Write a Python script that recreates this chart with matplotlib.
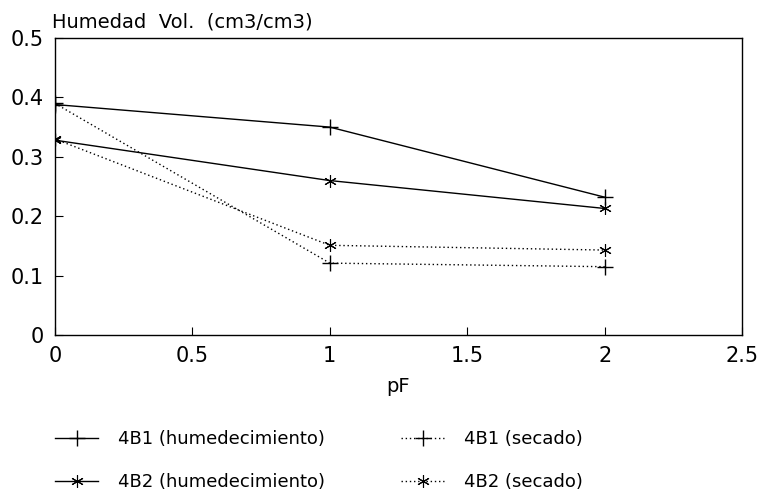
import matplotlib.pyplot as plt

plt.rcParams['font.family'] = ['DejaVu Sans']

pf = [0, 1, 2]
hum_4b1 = [0.388, 0.350, 0.232]
hum_4b2 = [0.328, 0.260, 0.213]
sec_4b1 = [0.390, 0.121, 0.115]
sec_4b2 = [0.330, 0.151, 0.143]

xticks = [0, 0.5, 1, 1.5, 2, 2.5]
xticklabels = ["0", "0.5", "1", "1.5", "2", "2.5"]
yticks = [0, 0.1, 0.2, 0.3, 0.4, 0.5]
yticklabels = ["0", "0.1", "0.2", "0.3", "0.4", "0.5"]

asterisk = (6, 2, 0)

fig = plt.figure(figsize=(7.62, 5.0), dpi=100)
ax = fig.add_axes([0.072, 0.33, 0.902, 0.594])

p1, = ax.plot(pf, hum_4b1, color='black', lw=1, marker='+', ms=11, mew=1)
p2, = ax.plot(pf, hum_4b2, color='black', lw=1, marker=asterisk, ms=9, mew=0.8)
p3, = ax.plot(pf, sec_4b1, color='black', lw=1, ls=(0, (1, 2)), marker='+', ms=11, mew=1)
p4, = ax.plot(pf, sec_4b2, color='black', lw=1, ls=(0, (1, 2)), marker=asterisk, ms=9, mew=0.8)

ax.set_xlim(0, 2.5)
ax.set_ylim(0, 0.5)
ax.set_xticks(xticks)
ax.set_xticklabels(xticklabels)
ax.set_yticks(yticks)
ax.set_yticklabels(yticklabels)
ax.tick_params(direction='in', length=6, labelsize=15, width=0.8, pad=8)
for s in ax.spines.values():
    s.set_linewidth(1.0)

ax.set_xlabel("pF", fontsize=14, labelpad=8)
fig.text(0.068, 0.955, "Humedad  Vol.  (cm3/cm3)", fontsize=14, ha='left', va='center')

fig.legend([p1, p2, p3, p4],
           ["4B1 (humedecimiento)", "4B2 (humedecimiento)", "4B1 (secado)", "4B2 (secado)"],
           ncol=2, frameon=False, fontsize=13, loc='upper left',
           bbox_to_anchor=(0.072, 0.14), borderaxespad=0, borderpad=0,
           handlelength=2.4, handletextpad=1.1, columnspacing=4.2,
           labelspacing=1.4)

fig.savefig("out.png", dpi=100)
